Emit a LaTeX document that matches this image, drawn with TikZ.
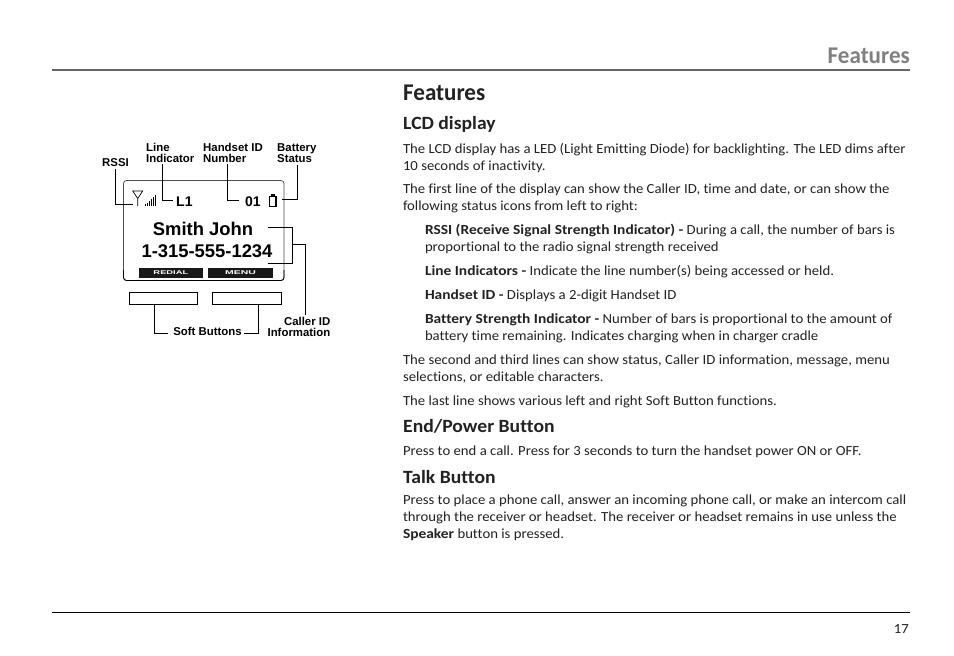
\documentclass[tikz,border=0pt]{standalone}
\usepackage{fontspec}
\setmainfont{Carlito}[FakeStretch=1.06,RawFeature={-liga},BoldFeatures={FakeStretch=1.11}]
\newfontfamily\headf{Carlito}[FakeStretch=0.96,RawFeature={-liga}]
\newfontfamily\subf{Carlito}[FakeStretch=1.05,RawFeature={-liga}]
\newfontfamily\arialf{Liberation Sans}
\usetikzlibrary{calc}
\definecolor{ink}{HTML}{222222}
\definecolor{headgray}{HTML}{808080}
\tikzset{
 body/.style={anchor=base west,inner sep=0pt,outer sep=0pt,text=ink,font=\fontsize{13.9}{16}\selectfont},
 subhead/.style={anchor=base west,inner sep=0pt,text=ink,font=\subf\fontsize{18.7}{22}\selectfont\bfseries},
 lab/.style={inner sep=0pt,align=left,text=black,font=\arialf\bfseries\fontsize{11.4}{11}\selectfont},
 big/.style={inner sep=0pt,anchor=base,text=black,font=\arialf\bfseries\fontsize{18.4}{21}\selectfont},
 leader/.style={draw=black,line width=0.7pt},
 softkey/.style={draw=black,line width=0.9pt,fill=white},
 softbar/.style={fill=black!90,draw=none},
 keytext/.style={inner sep=0pt,text=white,font=\arialf\bfseries\fontsize{5.5}{6}\selectfont},
}
\begin{document}
\begin{tikzpicture}[x=1pt,y=-1pt]
\useasboundingbox (0,0) rectangle (954,656);
\fill[white] (0,0) rectangle (954,656);
% page furniture
\coordinate (tl) at (52,70); \coordinate (tr) at (910,70);
\draw[headgray!80!black,line width=1.4pt] (tl) -- (tr);
\coordinate (bl) at (52,612); \coordinate (br) at (910,612);
\draw[black,line width=0.7pt] (bl) -- (br);
\node[anchor=base east,inner sep=0pt,text=headgray,font=\headf\fontsize{24}{26}\selectfont\bfseries] (hdr) at (910,63) {Features};
\node[anchor=base east,inner sep=0pt,text=ink,font=\fontsize{13.9}{16}\selectfont] (pg) at (909,633) {17};
% text column
\node[anchor=base west,inner sep=0pt,text=ink,font=\headf\fontsize{24}{26}\selectfont\bfseries] (t0) at (403,100) {Features};
\node[subhead] (h1) at (403,129) {LCD display};
\node[body] (l1) at (403,153) {The LCD display has a LED (Light Emitting Diode) for backlighting. The LED dims after};
\node[body] (l2) at (403,170) {10 seconds of inactivity.};
\node[body] (l3) at (403,193) {The first line of the display can show the Caller ID, time and date, or can show the};
\node[body] (l4) at (403,210) {following status icons from left to right:};
\node[body] (l5) at (425,234) {\textbf{RSSI (Receive Signal Strength Indicator) -} During a call, the number of bars is};
\node[body] (l6) at (425,251) {proportional to the radio signal strength received};
\node[body] (l7) at (425,275) {\textbf{Line Indicators -} Indicate the line number(s) being accessed or held.};
\node[body] (l8) at (425,299) {\textbf{Handset ID -} Displays a 2-digit Handset ID};
\node[body] (l9) at (425,323) {\textbf{Battery Strength Indicator -} Number of bars is proportional to the amount of};
\node[body] (l10) at (425,340) {battery time remaining. Indicates charging when in charger cradle};
\node[body] (l11) at (403,364) {The second and third lines can show status, Caller ID information, message, menu};
\node[body] (l12) at (403,381) {selections, or editable characters.};
\node[body] (l13) at (403,405) {The last line shows various left and right Soft Button functions.};
\node[subhead] (h2) at (403,432) {End/Power Button};
\node[body] (l14) at (403,455) {Press to end a call. Press for 3 seconds to turn the handset power ON or OFF.};
\node[subhead] (h3) at (403,483) {Talk Button};
\node[body] (l15) at (403,504) {Press to place a phone call, answer an incoming phone call, or make an intercom call};
\node[body] (l16) at (403,521) {through the receiver or headset. The receiver or headset remains in use unless the};
\node[body] (l17) at (403,538) {\textbf{Speaker} button is pressed.};
% LCD
\draw[black!70,line width=0.7pt,rounded corners=3pt] (123.5,180.5) rectangle (284,280.5);
\draw[black,line width=0.8pt,rounded corners=3pt] (123.5,270) -- (123.5,280.5) -- (284,280.5) -- (284,270);
\node[big] (smith) at (203,235.5) {Smith John};
\node[big] (num) at (207,257) {1-315-555-1234};
\node[lab,anchor=base west,font=\arialf\bfseries\fontsize{14}{14}\selectfont] (l1ind) at (176,206.5) {L1};
\node[lab,anchor=base west,font=\arialf\bfseries\fontsize{14}{14}\selectfont] (h01) at (245,206.5) {01};
% icons
\coordinate (ant) at (133,204);
\draw[black,line width=0.7pt] (132.7,191) -- (142.7,191) -- (137.7,198.5) -- cycle (137.7,198.5) -- (137.7,206);
\foreach \x/\t in {145/203.5,147/202.5,149/201,151/199,153/197,155/195}{\draw[black,line width=0.8pt] (\x,206) -- (\x,\t);}
\draw[black,line width=1.1pt] (269.5,196.5) rectangle (276,206.5);
\fill[black] (271,194) rectangle (274.5,196.5);
\coordinate (bat) at (281.7,199.3);
% soft keys
\node[softbar,minimum width=63.7pt,minimum height=10pt,inner sep=0pt] (kr) at (170.9,272.7) {};
\node[softbar,minimum width=65pt,minimum height=10pt,inner sep=0pt] (km) at (240.5,272.7) {};
\node[keytext] (krt) at (kr) {\scalebox{1.7}[1]{REDIAL}};
\node[keytext] (kmt) at (km) {\scalebox{1.9}[1]{MENU}};
\node[softkey,minimum width=68.4pt,minimum height=11.7pt,inner sep=0pt] (b1) at (163.5,298.2) {};
\node[softkey,minimum width=69pt,minimum height=11.7pt,inner sep=0pt] (b2) at (247.2,298.2) {};
% labels
\node[lab,anchor=base west] (rssi) at (102,166) {RSSI};
\node[lab,anchor=base west] (line) at (146,162) {Line\\Indicator};
\node[lab,anchor=base west] (hs) at (203,162) {Handset ID\\Number};
\node[lab,anchor=base west] (bs) at (277,162) {Battery\\Status};
\node[lab,anchor=base] (sb) at (207.5,335) {Soft Buttons};
\node[lab,anchor=base east,align=right] (cid) at (330.5,336) {Caller ID\\Information};
% leaders
\coordinate (a1) at (115.7,169); \coordinate (a2) at (133,204);
\draw[leader] (a1) |- (a2);
\coordinate (c1) at (162.3,164); \coordinate (c2) at (172.7,200.7);
\draw[leader] (c1) |- (c2);
\coordinate (d1) at (227.3,164); \coordinate (d2) at (239,200.7);
\draw[leader] (d1) |- (d2);
\coordinate (e1) at (297.3,165);
\draw[leader] (e1) |- (bat);
\coordinate (f1) at (268.3,227); \coordinate (f2) at (292.3,227); \coordinate (f3) at (292.3,263.3); \coordinate (f4) at (268.3,263.3);
\draw[leader] (f1) -- (f2) -- (f3) -- (f4);
\coordinate (g1) at (292.3,244.3); \coordinate (g2) at (305,315);
\draw[leader] (g1) -| (g2);
\coordinate (s1) at (154.3,304); \coordinate (s2) at (168.3,333.3);
\draw[leader] (s1) |- (s2);
\coordinate (u1) at (258.3,304); \coordinate (u2) at (244,333.3);
\draw[leader] (u1) |- (u2);
\end{tikzpicture}
\end{document}
